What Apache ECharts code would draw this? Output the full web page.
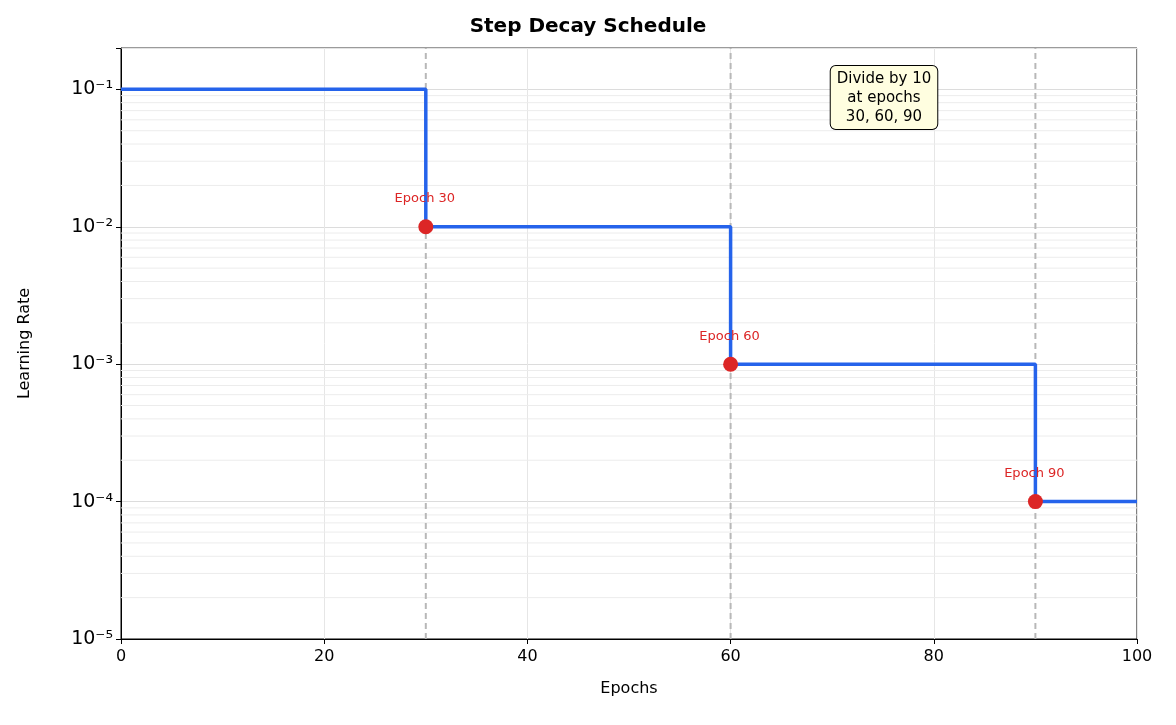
<!DOCTYPE html>
<html><head><meta charset="utf-8">
<script src="https://cdn.jsdelivr.net/npm/echarts@6/dist/echarts.min.js"></script>
<style>html,body{margin:0;padding:0;background:#fff}#c{width:1176px;height:725px}</style>
</head><body><div id="c"></div>
<script>
const stepX = [0, 30, 60, 90, 100];
const stepY = [0.1, 0.01, 0.001, 0.0001, 0.0001];
const dropEpochs = [30, 60, 90];
const dropLR = [0.01, 0.001, 0.0001];
const dropLabels = ['Epoch 30', 'Epoch 60', 'Epoch 90'];
const decades = [1e-5, 1e-4, 1e-3, 1e-2, 1e-1];
const Y_MIN = 1e-5, Y_MAX = 0.2;

const minorVals = [];
decades.forEach(d => { for (let k = 2; k <= 9; k++) { const v = d * k; if (v <= Y_MAX) minorVals.push(v); } });

const sup = {'-':'⁻','0':'⁰','1':'¹','2':'²','3':'³','4':'⁴','5':'⁵','6':'⁶','7':'⁷','8':'⁸','9':'⁹'};
const series = [];
minorVals.forEach(v => series.push({type: 'line', data: [[0, v], [100, v]], showSymbol: false, silent: true,
  lineStyle: {color: '#ececec', width: 1}, z: 1}));
dropEpochs.forEach(x => series.push({type: 'line', data: [[x, Y_MIN], [x, Y_MAX]], showSymbol: false, silent: true,
  lineStyle: {color: '#b8b8b8', width: 2, type: [6, 4]}, z: 2}));
series.push({type: 'line', step: 'end', showSymbol: false, data: stepX.map((x, i) => [x, stepY[i]]),
  lineStyle: {color: '#2563eb', width: 3.5}, z: 3});
series.push({type: 'scatter', symbolSize: 15, itemStyle: {color: '#dc2626', opacity: 1}, z: 4,
  data: dropEpochs.map((x, i) => ({value: [x, dropLR[i]], name: dropLabels[i]})),
  label: {show: true, position: 'top', distance: 14, offset: [-1, 0], formatter: p => p.name,
    color: '#dc2626', fontFamily: 'DejaVu Sans', fontSize: 13}});

const chart = echarts.init(document.getElementById('c'));
chart.setOption({
  animation: false,
  title: {text: 'Step Decay Schedule', left: 'center', top: 12,
    textStyle: {fontFamily: 'DejaVu Sans', fontSize: 20, fontWeight: 'bold', color: '#000'}},
  grid: {left: 121, right: 39, top: 48, bottom: 86, show: true, borderColor: '#000', borderWidth: 1},
  xAxis: {type: 'value', min: 0, max: 100, interval: 20, name: 'Epochs', nameLocation: 'middle', nameGap: 42,
    nameTextStyle: {fontFamily: 'DejaVu Sans', fontSize: 16, color: '#000'},
    axisLine: {show: true, lineStyle: {color: '#000'}},
    axisTick: {show: true, length: 5, lineStyle: {color: '#000'}},
    axisLabel: {fontFamily: 'DejaVu Sans', fontSize: 16, color: '#000', margin: 10},
    splitLine: {show: true, lineStyle: {color: '#e6e6e6'}}},
  yAxis: {type: 'log', logBase: 10, min: Y_MIN, max: Y_MAX, name: 'Learning Rate', nameLocation: 'middle', nameGap: 88,
    nameTextStyle: {fontFamily: 'DejaVu Sans', fontSize: 16, color: '#000'},
    axisLine: {show: true, lineStyle: {color: '#000'}},
    axisTick: {show: true, length: 5, lineStyle: {color: '#000'}},
    axisLabel: {fontFamily: 'DejaVu Sans', fontSize: 19, color: '#000', margin: 8,
      formatter: v => { const e = Math.log10(v); if (Math.abs(e - Math.round(e)) > 1e-6) return '';
        return '10' + String(Math.round(e)).split('').map(c => sup[c]).join(''); }},
    splitLine: {show: true, lineStyle: {color: '#dcdcdc'}}},
  series: series,
  graphic: [{type: 'text', z: 10,
    style: {x: 884, y: 66, text: 'Divide by 10\nat epochs\n30, 60, 90', align: 'center', verticalAlign: 'top',
      fontFamily: 'DejaVu Sans', fontSize: 15, lineHeight: 19, fill: '#000', backgroundColor: '#fffee0',
      borderColor: '#000', borderWidth: 1, borderRadius: 5, padding: [4, 6, 2, 6]}}]
});
</script></body></html>
